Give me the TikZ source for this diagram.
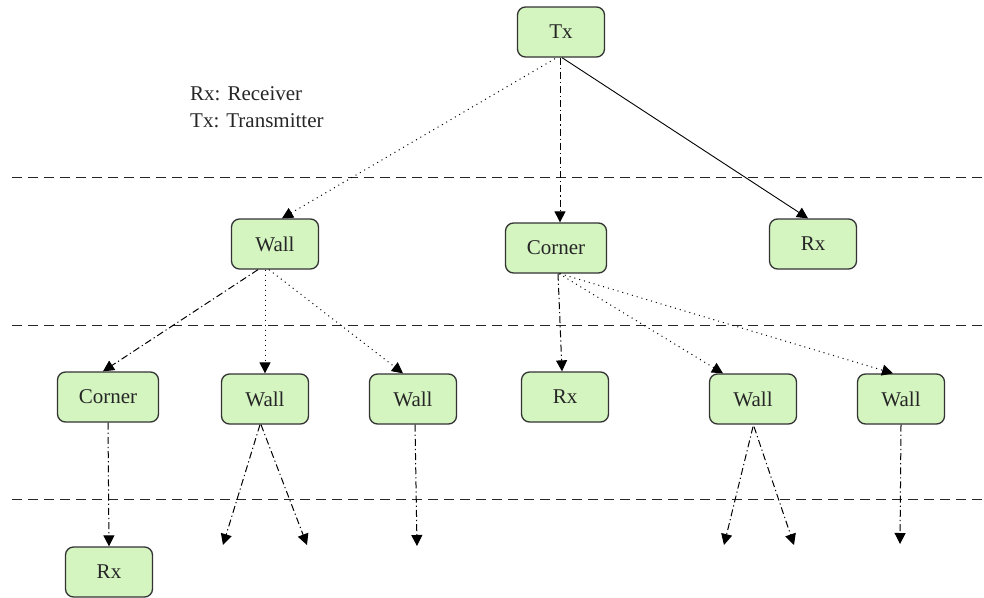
\documentclass[tikz,border=0pt]{standalone}
\usepackage{fontspec}
\setmainfont{Liberation Serif}
\usetikzlibrary{arrows.meta,calc}
\definecolor{boxfill}{HTML}{D4F4C0}
\definecolor{boxdraw}{HTML}{333333}
\begin{document}
\begin{tikzpicture}[x=1pt,y=-1pt,
  box/.style={draw=boxdraw,fill=boxfill,line width=1.3pt,rounded corners=8pt,
    minimum width=87pt,minimum height=50pt,inner sep=0pt,text=black!85,
    font=\fontsize{21}{24}\selectfont},
  widebox/.style={box,minimum width=101pt},
  tip/.style={-{Triangle[length=11pt,width=11pt]}},
  solidedge/.style={tip,line width=0.9pt},
  dotedge/.style={tip,line width=1pt,dash pattern=on 1pt off 4pt},
  dashdotedge/.style={tip,line width=1pt,dash pattern=on 7pt off 3pt on 1.2pt off 3pt},
  sep/.style={line width=1pt,dash pattern=on 10pt off 6pt,draw=black!85},
  legend/.style={align=left,anchor=west,inner sep=0pt,text=black!85,font=\fontsize{21}{27}\selectfont}
]
\useasboundingbox (0,0) rectangle (984,597);

% separators
\coordinate (s1a) at (12,177); \coordinate (s1b) at (984,177);
\coordinate (s2a) at (12,325); \coordinate (s2b) at (984,325);
\coordinate (s3a) at (12,499); \coordinate (s3b) at (984,499);
\draw[sep] (s1a) -- (s1b);
\draw[sep] (s2a) -- (s2b);
\draw[sep] (s3a) -- (s3b);

% legend
\node[legend] (leg) at (190,107) {Rx: Receiver\\Tx: Transmitter};

% nodes
\node[box] (tx) at (561,32) {Tx};
\node[box] (w1) at (275,244) {Wall};
\node[widebox] (c1) at (556,248) {Corner};
\node[box] (r1) at (813,244) {Rx};

\node[widebox] (c2) at (108,397) {Corner};
\node[box] (w2) at (265,399) {Wall};
\node[box] (w3) at (413,399) {Wall};
\node[box] (r2) at (565,397) {Rx};
\node[box] (w5) at (753,399) {Wall};
\node[box] (w6) at (901,399) {Wall};

\node[box] (r3) at (109,572) {Rx};

% free ends
\coordinate (e1) at (223,545);
\coordinate (e2) at (307,545);
\coordinate (e3) at (417,546);
\coordinate (e4) at (724,545);
\coordinate (e5) at (794,545);
\coordinate (e6) at (900,544);

% level 0 -> 1
\draw[dotedge] ($(tx.south)+(-6,1)$) -- ($(w1.north)+(7,0)$);
\draw[dashdotedge] ($(tx.south)+(-1,0)$) -- ($(tx.south |- c1.north)+(-1,0)$);
\draw[solidedge] ($(tx.south)+(1,0)$) -- ($(r1.north)+(-5,0)$);

% level 1 -> 2
\draw[dashdotedge] ($(w1.south)+(-17,0)$) -- ($(c2.north)+(-5,0)$);
\draw[dotedge] (w2.north |- w1.south) -- (w2.north);
\draw[dotedge] ($(w1.south)+(-6,0)$) -- ($(w3.north)+(-10,0)$);
\draw[dashdotedge] ($(c1.south)+(2,0)$) -- ($(r2.north)+(-3,0)$);
\draw[dotedge] ($(c1.south)+(3,0)$) -- ($(w5.north)+(-30,0)$);
\draw[dotedge] ($(c1.south)+(4,0)$) -- ($(w6.north)+(-8,0)$);

% level 2 -> 3
\draw[dashdotedge] (c2.south) -- (r3.north);
\draw[dashdotedge] ($(w2.south)+(-5,0)$) -- (e1);
\draw[dashdotedge] ($(w2.south)+(-4,0)$) -- (e2);
\draw[dashdotedge] ($(w3.south)+(2,0)$) -- (e3);
\draw[dashdotedge] ($(w5.south)+(0,2)$) -- (e4);
\draw[dashdotedge] ($(w5.south)+(1,2)$) -- (e5);
\draw[dashdotedge] (w6.south) -- (e6);
\end{tikzpicture}
\end{document}
